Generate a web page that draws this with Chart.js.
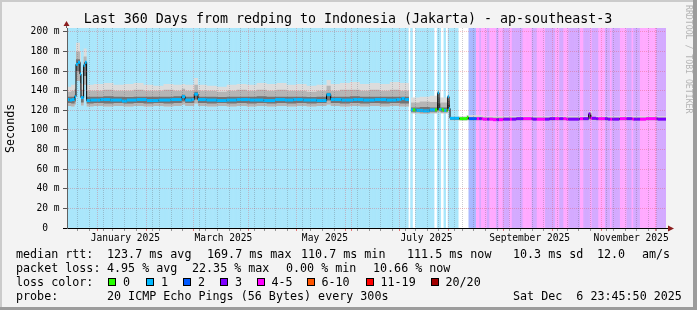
<!DOCTYPE html>
<html>
<head>
<meta charset="utf-8">
<title>Last 360 Days from redping to Indonesia (Jakarta)</title>
<script src="https://cdn.jsdelivr.net/npm/chart.js@4.4.1/dist/chart.umd.min.js"></script>
<style>
  html, body { margin: 0; padding: 0; background: #fff; }
  #frame { position: relative; width: 697px; height: 310px; background: #f3f3f3; overflow: hidden;
           font-family: 'DejaVu Sans Mono', monospace; color: #000; }
  #frame canvas { position: absolute; left: 0; top: 0; }
  .edge { position: absolute; }
  .t { position: absolute; white-space: pre; font-size: 11.7px; line-height: 14px; }
  .box { position: absolute; width: 6px; height: 6px; border: 1px solid #000; top: 278px; }
  #title { position: absolute; left: 0; width: 696px; top: 11px; text-align: center; font-size: 13.3px; line-height: 16px; white-space: pre; }
  #ytitle { position: absolute; left: 3px; top: 100px; height: 56px; font-size: 11.7px; line-height: 14px;
            writing-mode: vertical-rl; transform: rotate(180deg); text-align: center; }
  #credit { position: absolute; left: 684px; top: 5px; font-size: 8.2px; line-height: 10px; color: #b4b4b4;
            writing-mode: vertical-rl; white-space: pre; }
</style>
</head>
<body>
<div id="frame">
  <canvas id="chart" width="697" height="310"></canvas>
  <div class="edge" style="left:0;top:0;width:697px;height:2px;background:#cbcbcb"></div>
  <div class="edge" style="left:0;top:0;width:2px;height:310px;background:#cbcbcb"></div>
  <div class="edge" style="right:0;top:0;width:4px;height:310px;background:#9c9c9c"></div>
  <div class="edge" style="left:0;bottom:0;width:697px;height:3px;background:#9c9c9c"></div>
  <div id="title">Last 360 Days from redping to Indonesia (Jakarta) - ap-southeast-3</div>
  <div id="ytitle">Seconds</div>
  <div id="credit">RRDTOOL / TOBI OETIKER</div>
  <div id="legend"></div>
</div>
<script>
// time frame: 360 days ending Sat Dec 6 23:45:50 2025
const START = Date.UTC(2024, 11, 11, 23, 45, 50);
const DAY = 86400000;
const SPAN_DAYS = 360;

// loss classes
const lossNames = ['0', '1', '2', '3', '4-5', '6-10', '11-19', '20/20'];
const lossColors = ['#26ff00', '#00b8ff', '#0059ff', '#7e00ff', '#ff00ff', '#ff5500', '#ff0000', '#a10000'];
const lossBgColors = ['#ffffff', '#aae6fb', '#aab9ff', '#d4aaff', '#ffaaff', '#ffccaa', '#ffaaaa', '#e3aaaa'];

// loss class per period (day the period starts, class index)
const lossDays = [0, 205.5, 206.7, 207.9, 209.5, 221.2, 222.5, 225.2, 226.6, 228.2, 228.8, 235.6, 241.6,
  246.2, 247.8, 249.2, 252.6, 253.8, 258.2, 259.6, 262.2, 266.2, 267.4, 274.2, 279.3, 282.3, 287.3, 293.3,
  295.9, 298.3, 301.3, 308.3, 310.3, 314.3, 315.5, 319.3, 323.3, 326.5, 327.7, 332.3, 336.4, 339.5, 340.7,
  344.4, 354.4];
const lossClass = [1, 0, 1, 0, 1, 0, 1, 0, 1, 0, 1, 0, 2,
  4, 3, 4, 3, 4, 3, 4, 3, 4, 3, 4, 3, 4, 3, 4,
  3, 4, 3, 4, 3, 4, 3, 4, 3, 4, 3, 4, 3, 4, 3,
  4, 3];

// median rtt (ms), value holds from its day until the next one
const medDays = [0, 1.5, 3, 4.6, 5.4, 6.6, 7.8, 8.4, 10.0, 10.8, 11.8, 14, 20, 26, 33, 36, 42, 48, 55, 62,
  69, 71, 75, 76.5, 78.7, 84, 90, 96, 102, 110, 118, 125, 131, 136, 142, 150, 156, 158.5, 165, 172,
  178, 185, 192, 198, 201, 203, 205.5, 206.7, 210, 214, 218, 222.8, 223.6, 226, 228.8, 229.6, 230.2, 236, 240.4, 241.2,
  250, 256, 262, 270, 280, 290, 300, 308, 313.5, 314.6, 318, 325, 332, 340, 348, 355, 360];
const medVals = [131, 130.5, 131, 134, 167, 169, 157, 133, 166, 169, 130, 130.5, 131, 130.5, 129.5, 130.5, 131, 130, 130.5, 131,
  134, 130.5, 131, 136.5, 131, 130.5, 130, 130.5, 131, 130.5, 130, 131, 130.5, 131, 130.5, 130, 136, 131, 130.5, 131,
  130.5, 131, 130.5, 131, 132, 131, null, 120.5, 120, 119.5, 120.5, 138, 121, 120, 134, 122, 112, 111.5, 113, 111.5,
  111, 110.5, 111, 111.5, 111, 111.5, 111, 111.5, 116.5, 112, 111.5, 111, 111.5, 111, 111.5, 111, 111.5];

// smoke (spread of the 20 pings), ms
const smokeDays = [0, 2.5, 4.6, 5.4, 7.8, 8.4, 10.0, 11.8, 16, 22, 28, 34, 40, 46, 52, 58, 64,
  69, 71, 76.5, 78.7, 84, 90, 96, 102, 108, 114, 120, 126, 132, 138, 144, 150, 156, 158.5,
  164, 170, 176, 182, 188, 194, 200, 205.5, 206.7, 212, 218, 222.5, 224.5, 228.8, 230.2, 240, 250, 313.5, 315.5, 360];
const smokeLo = [124.5, 124, 126, 150, 140, 125, 146, 124, 124.5, 124, 124.5, 124, 124.5, 124, 124.5, 124, 124.5,
  126, 124.5, 127, 124.5, 124, 124.5, 124, 124.5, 124, 124.5, 124, 124.5, 124, 124.5, 124, 124.5, 126, 124.5,
  124, 124.5, 124, 124.5, 124, 124.5, 124, null, 117, 116.5, 117, 118, 117, 119, 110, 110, 110, 110.5, 110, 110];
const smokeLoDark = [127.5, 127, 129, 160, 148, 128, 155, 127, 127.5, 127, 127.5, 127, 127.5, 127, 127.5, 127, 127.5,
  129, 127.5, 131, 127.5, 127, 127.5, 127, 127.5, 127, 127.5, 127, 127.5, 127, 127.5, 127, 127.5, 130, 127.5,
  127, 127.5, 127, 127.5, 127, 127.5, 127, null, 118.5, 118, 118.5, 120, 118.5, 121, 110.5, 110.5, 110.5, 111.5, 110.5, 110.5];
const smokeHiDark = [134, 134, 136, 172, 160, 135, 167, 134, 134, 134.5, 134, 133.5, 134, 134, 134, 134, 134.5,
  136, 134, 139, 134, 134, 133.5, 134, 134, 134, 134.5, 134, 134, 134, 134, 133.5, 134, 138, 134,
  134, 134.5, 134, 134, 134, 134, 134, null, 123, 123.5, 123, 127, 123, 126, 112, 112.5, 112, 115, 112, 112];
const smokeHiMid = [139, 140, 142, 180, 170, 141, 175, 140, 140, 141, 140, 140, 141, 140, 140, 141, 140,
  142, 140, 146, 140, 140, 139, 140, 141, 140, 141, 140, 141, 140, 140, 139, 140, 145, 140,
  141, 141, 140, 141, 140, 141, 140, null, 128, 129, 128.5, 133, 128, 130, 113, 113.5, 113, 117, 113, 113];
const smokeTop = [144, 146, 147, 189, 180, 147, 183, 146, 147, 148, 146, 147, 148, 146, 145, 147, 146,
  147, 146, 153, 146, 145, 144, 146, 147, 146, 148, 147, 148, 146, 147, 145, 146, 151, 147,
  148, 149, 147, 148, 147, 149, 148, null, 133, 134, 135, 140, 133, 134, 114, 115, 114, 119, 114, 114];

// axes
const yTicks = [0, 10, 20, 30, 40, 50, 60, 70, 80, 90, 100, 110, 120, 130, 140, 150, 160, 170, 180, 190, 200];
const xLabelMonths = [0, 2, 4, 6, 8, 10];
const xLabels = ['January 2025', 'March 2025', 'May 2025', 'July 2025', 'September 2025', 'November 2025'];

// legend
const legendRows = [
  { top: 247, parts: [[16, 'median rtt:'], [107, '123.7 ms avg'], [207, '169.7 ms max'], [301, '110.7 ms min'],
    [407, '111.5 ms now'], [513, '10.3 ms sd'], [597, '12.0'], [642, 'am/s']] },
  { top: 261, parts: [[16, 'packet loss:'], [107, '4.95 % avg'], [192, '22.35 % max'], [286, '0.00 % min'],
    [373, '10.66 % now']] },
  { top: 275, parts: [[16, 'loss color:']] },
  { top: 289, parts: [[16, 'probe:'], [107, '20 ICMP Echo Pings (56 Bytes) every 300s'], [513, 'Sat Dec  6 23:45:50 2025']] }
];
const lossBoxX = [108, 145.5, 182.5, 219.5, 256.5, 307, 366, 431];
const lossLabelX = [123, 161, 198, 235, 271.5, 321.5, 380.5, 445.5];

function dayOf(ms) { return (ms - START) / DAY; }

function lossAt(t) {
  let c = lossClass[0];
  for (let i = 0; i < lossDays.length; i++) {
    if (lossDays[i] <= t + 1e-9) c = lossClass[i]; else break;
  }
  return c;
}

function holdValue(days, vals, t) {
  let v = null;
  for (let i = 0; i < days.length; i++) {
    if (days[i] <= t + 1e-9) v = vals[i]; else break;
  }
  return v;
}

// stepped series: keep the last value up to the start of a gap
function stepPoints(days, vals) {
  const out = [];
  for (let i = 0; i < days.length; i++) {
    if (vals[i] === null && i > 0 && vals[i - 1] !== null) out.push({ x: days[i], y: vals[i - 1] });
    out.push({ x: days[i], y: vals[i] });
  }
  return out;
}

// median points at every median change and loss change
const unionDays = [...new Set([...medDays, ...lossDays, SPAN_DAYS])].sort((a, b) => a - b);
const unionVals = unionDays.map(t => holdValue(medDays, medVals, t));
const medianLine = stepPoints(unionDays, unionVals);

// colored horizontal pieces, one per step
const medianPieces = [];
for (let i = 0; i < unionDays.length - 1; i++) {
  const v = unionVals[i];
  if (v === null) continue;
  medianPieces.push({ x: unionDays[i], y: v }, { x: unionDays[i + 1], y: v }, { x: unionDays[i + 1], y: null });
}

// loss background, half-day slots
const bgSlots = [];
for (let i = 0; i < SPAN_DAYS * 2; i++) bgSlots.push({ x: i * 0.5 + 0.25, y: 204 });

// x grid: sundays (minor) and month starts (major)
const monthStarts = [];
for (let m = 0; m < 12; m++) monthStarts.push(dayOf(Date.UTC(2025, m, 1)));
const sundays = [];
for (let t = Date.UTC(2024, 11, 15); dayOf(t) < SPAN_DAYS; t += 7 * DAY) sundays.push(dayOf(t));
const xTicks = [...sundays, ...monthStarts].sort((a, b) => a - b);

function isMonthStart(v) { return monthStarts.some(m => Math.abs(m - v) < 1e-6); }
function xLabelFor(v) {
  const idx = monthStarts.findIndex(m => Math.abs(m - v) < 1e-6);
  const k = xLabelMonths.indexOf(idx);
  return k >= 0 ? xLabels[k] : '';
}

const MAJOR_GRID = 'rgba(225, 70, 80, 0.32)';
const MINOR_GRID = 'rgba(100, 100, 110, 0.32)';
const tickFont = { family: "'DejaVu Sans Mono', monospace", size: 9.6 };

function tickVal(c) { return c && c.tick ? c.tick.value : null; }

const smokeLine = { type: 'line', stepped: true, pointRadius: 0, borderWidth: 0, borderColor: 'rgba(0,0,0,0)' };

const axisArrows = {
  id: 'axisArrows',
  afterDraw(chart) {
    const { ctx, chartArea: a } = chart;
    ctx.save();
    ctx.lineWidth = 1;
    ctx.strokeStyle = '#606060';
    ctx.beginPath(); ctx.moveTo(a.left - 0.5, a.top); ctx.lineTo(a.left - 0.5, a.top - 3); ctx.stroke();
    ctx.strokeStyle = '#000';
    ctx.beginPath(); ctx.moveTo(a.left - 4, a.bottom + 0.5); ctx.lineTo(a.left, a.bottom + 0.5); ctx.stroke();
    ctx.beginPath(); ctx.moveTo(a.right, a.bottom + 0.5); ctx.lineTo(a.right + 3, a.bottom + 0.5); ctx.stroke();
    ctx.fillStyle = '#8b1e1e';
    ctx.beginPath(); ctx.moveTo(a.left - 3.5, a.top - 2); ctx.lineTo(a.left + 2.5, a.top - 2); ctx.lineTo(a.left - 0.5, a.top - 7); ctx.closePath(); ctx.fill();
    ctx.beginPath(); ctx.moveTo(a.right + 2, a.bottom - 2.5); ctx.lineTo(a.right + 2, a.bottom + 3.5); ctx.lineTo(a.right + 8, a.bottom + 0.5); ctx.closePath(); ctx.fill();
    ctx.restore();
  }
};

// legend text
const legend = document.getElementById('legend');
legendRows.forEach(row => {
  row.parts.forEach(([x, text]) => {
    const el = document.createElement('div');
    el.className = 't';
    el.style.left = x + 'px';
    el.style.top = row.top + 'px';
    el.textContent = text;
    legend.appendChild(el);
  });
});
lossNames.forEach((name, i) => {
  const box = document.createElement('div');
  box.className = 'box';
  box.style.left = lossBoxX[i] + 'px';
  box.style.background = lossColors[i];
  legend.appendChild(box);
  const el = document.createElement('div');
  el.className = 't';
  el.style.left = lossLabelX[i] + 'px';
  el.style.top = '275px';
  el.textContent = name;
  legend.appendChild(el);
});

new Chart(document.getElementById('chart'), {
  type: 'line',
  data: {
    datasets: [
      {
        data: medianPieces, borderWidth: 3, pointRadius: 0, order: 1, spanGaps: false,
        borderCapStyle: 'butt',
        segment: { borderColor: c => lossColors[lossAt(c.p0.parsed.x)] }
      },
      { data: medianLine, stepped: true, borderWidth: 1, borderColor: '#000', pointRadius: 0, order: 2 },
      { ...smokeLine, data: stepPoints(smokeDays, smokeLo), order: 9 },
      { ...smokeLine, data: stepPoints(smokeDays, smokeTop), order: 8, fill: 2, backgroundColor: '#dcdcdc' },
      { ...smokeLine, data: stepPoints(smokeDays, smokeHiMid), order: 7, fill: 2, backgroundColor: '#b5b5b5' },
      { ...smokeLine, data: stepPoints(smokeDays, smokeLoDark), order: 9 },
      { ...smokeLine, data: stepPoints(smokeDays, smokeHiDark), order: 6, fill: 5, backgroundColor: '#747474' },
      {
        type: 'bar', data: bgSlots, order: 20, borderWidth: 0, barPercentage: 1, categoryPercentage: 1,
        backgroundColor: c => lossBgColors[lossAt(bgSlots[c.dataIndex] ? bgSlots[c.dataIndex].x : 0)]
      }
    ]
  },
  options: {
    responsive: false,
    animation: false,
    events: [],
    layout: { padding: { left: 0, right: 31, top: 28, bottom: 62 } },
    plugins: { legend: { display: false }, tooltip: { enabled: false }, title: { display: false } },
    scales: {
      x: {
        type: 'linear', min: 0, max: SPAN_DAYS, offset: false,
        afterBuildTicks: s => { s.ticks = xTicks.map(v => ({ value: v })); },
        afterFit: s => { s.height = 20; },
        ticks: {
          autoSkip: false, maxRotation: 0, minRotation: 0, padding: 1.5, labelOffset: 25,
          color: '#000', font: tickFont, callback: v => xLabelFor(v)
        },
        grid: {
          z: 1,
          color: c => isMonthStart(tickVal(c)) ? MAJOR_GRID : MINOR_GRID,
          tickColor: c => isMonthStart(tickVal(c)) ? 'rgba(220,90,90,0.8)' : 'rgba(90,90,90,0.6)',
          tickLength: 3, lineWidth: 1
        },
        border: { z: 2, color: '#000', width: 1, dash: [1, 1] }
      },
      y: {
        min: 0, max: 204,
        afterBuildTicks: s => { s.ticks = yTicks.map(v => ({ value: v })); },
        afterFit: s => { s.width = 67; },
        ticks: {
          padding: 3.5, color: '#000', font: tickFont,
          callback: v => v % 20 === 0 ? (v === 0 ? '0  ' : v + ' m') : ''
        },
        grid: {
          z: 1,
          color: c => tickVal(c) !== null && tickVal(c) % 20 === 0 ? MAJOR_GRID : MINOR_GRID,
          tickColor: c => tickVal(c) !== null && tickVal(c) % 20 === 0 ? '#555' : '#999',
          tickLength: 4, lineWidth: 1
        },
        border: { z: 2, color: '#606060', width: 1, dash: [1, 1] }
      }
    }
  },
  plugins: [axisArrows]
});
</script>
</body>
</html>
